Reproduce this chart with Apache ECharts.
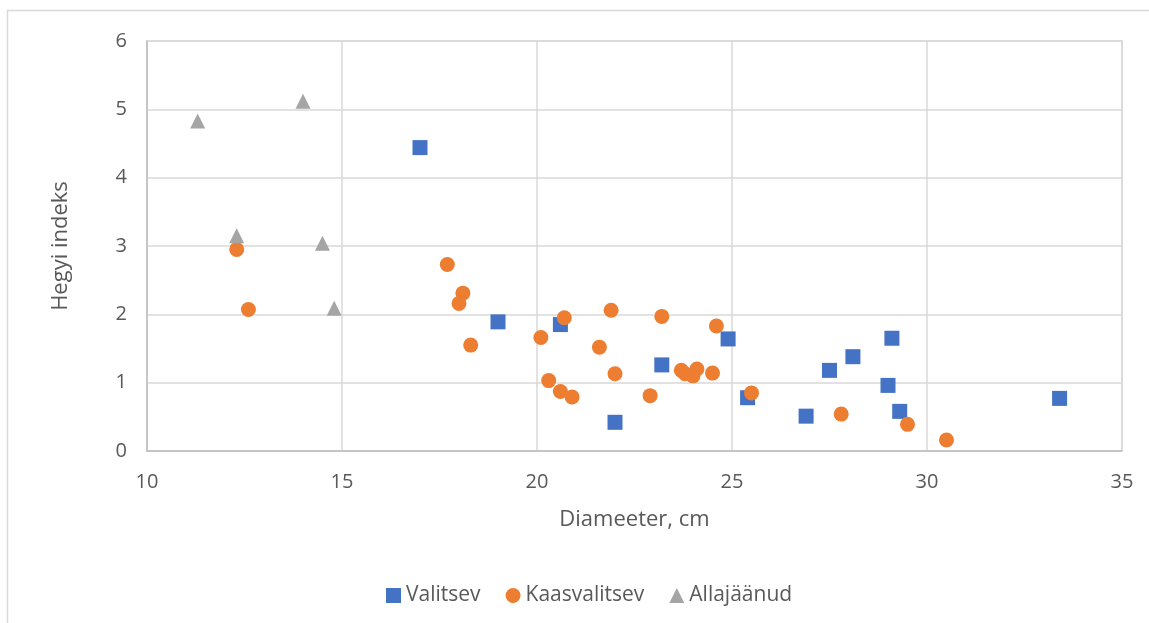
<!DOCTYPE html>
<html>
<head>
<meta charset="utf-8">
<script src="https://cdn.jsdelivr.net/npm/echarts@6/dist/echarts.min.js"></script>
<style>html,body{margin:0;padding:0;background:#fff;}#c{width:1149px;height:623px;}</style>
</head>
<body>
<div id="c"></div>
<script>
const seriesNames = ['Valitsev', 'Kaasvalitsev', 'Allajäänud'];
const valitsev = [
  [17.0, 4.44], [19.0, 1.89], [20.6, 1.85], [22.0, 0.42], [23.2, 1.26],
  [24.9, 1.64], [25.4, 0.78], [26.9, 0.51], [27.5, 1.18], [28.1, 1.38],
  [29.0, 0.96], [29.1, 1.65], [29.3, 0.58], [33.4, 0.77]
];
const kaasvalitsev = [
  [12.3, 2.95], [12.6, 2.07], [17.7, 2.73], [18.1, 2.31], [18.0, 2.16],
  [18.3, 1.55], [20.1, 1.66], [20.7, 1.95], [21.9, 2.06], [23.2, 1.97],
  [24.6, 1.83], [21.6, 1.52], [20.3, 1.03], [20.6, 0.87], [20.9, 0.79],
  [22.0, 1.13], [22.9, 0.81], [23.7, 1.18], [23.8, 1.13], [24.0, 1.10],
  [24.1, 1.20], [24.5, 1.14], [25.5, 0.85], [27.8, 0.54], [29.5, 0.39],
  [30.5, 0.16]
];
const allajaanud = [
  [11.3, 4.83], [14.0, 5.12], [12.3, 3.15], [14.5, 3.04], [14.8, 2.09]
];
const xTitle = 'Diameeter, cm';
const yTitle = 'Hegyi indeks';

const FONT = 'Open Sans';
const TXT = '#595959';
const chart = echarts.init(document.getElementById('c'), null, {renderer: 'canvas'});
chart.setOption({
  backgroundColor: '#ffffff',
  animation: false,
  graphic: [{
    type: 'rect', silent: true,
    shape: {x: 7.5, y: 10.5, width: 1300, height: 800},
    style: {fill: 'none', stroke: '#d9d9d9', lineWidth: 1.5}
  }],
  grid: {left: 147, top: 41, right: 27, bottom: 172, show: true, borderColor: '#d9d9d9', borderWidth: 1.5},
  legend: {
    left: 386, top: 585, padding: 0,
    itemWidth: 15, itemHeight: 15, itemGap: 25,
    textStyle: {fontFamily: FONT, fontSize: 21, color: TXT},
    data: [
      {name: seriesNames[0], icon: 'rect'},
      {name: seriesNames[1], icon: 'circle'},
      {name: seriesNames[2], icon: 'triangle'}
    ]
  },
  xAxis: {
    type: 'value', min: 10, max: 35, interval: 5,
    name: xTitle, nameLocation: 'middle', nameGap: 58,
    nameTextStyle: {fontFamily: FONT, fontSize: 22, color: TXT},
    axisLine: {show: true, lineStyle: {color: '#bfbfbf', width: 1.5}},
    axisTick: {show: false},
    axisLabel: {fontFamily: FONT, fontSize: 20, color: TXT, margin: 21},
    splitLine: {show: true, lineStyle: {color: '#d9d9d9', width: 1.5}}
  },
  yAxis: {
    type: 'value', min: 0, max: 6, interval: 1,
    name: yTitle, nameLocation: 'middle', nameGap: 75, nameRotate: 90,
    nameTextStyle: {fontFamily: FONT, fontSize: 22, color: TXT},
    axisLine: {show: true, lineStyle: {color: '#bfbfbf', width: 1.5}},
    axisTick: {show: false},
    axisLabel: {fontFamily: FONT, fontSize: 20, color: TXT, margin: 20},
    splitLine: {show: true, lineStyle: {color: '#d9d9d9', width: 1.5}}
  },
  series: [
    {name: seriesNames[0], type: 'scatter', symbol: 'rect', symbolSize: 15,
     itemStyle: {color: '#4472C4', opacity: 1}, data: valitsev, z: 2},
    {name: seriesNames[1], type: 'scatter', symbol: 'circle', symbolSize: 15,
     itemStyle: {color: '#ED7D31', opacity: 1}, data: kaasvalitsev, z: 3},
    {name: seriesNames[2], type: 'scatter', symbol: 'triangle', symbolSize: 15,
     itemStyle: {color: '#A5A5A5', opacity: 1}, data: allajaanud, z: 4}
  ]
});
</script>
</body>
</html>
